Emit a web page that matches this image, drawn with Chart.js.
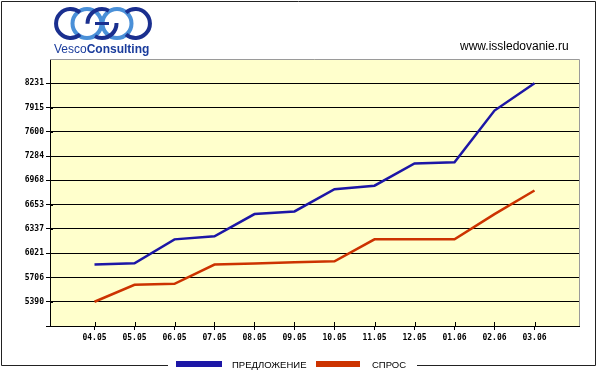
<!DOCTYPE html>
<html><head><meta charset="utf-8">
<script src="https://cdn.jsdelivr.net/npm/chart.js@4.4.0/dist/chart.umd.min.js"></script>
<style>
html,body{margin:0;padding:0;background:#fff;}
#wrap{position:relative;width:600px;height:383px;overflow:hidden;}
canvas{position:absolute;left:0;top:0;}
#logo{position:absolute;left:50px;top:4px;}
#url{position:absolute;left:460px;top:40px;font:12px/12px "Liberation Sans",Arial,sans-serif;color:#000;white-space:nowrap;}
</style></head><body>
<div id="wrap">
<canvas id="c" width="600" height="383"></canvas>
<svg id="logo" width="104" height="54" viewBox="50 4 104 54">
  <g fill="none" stroke-width="4">
    <circle cx="87" cy="23.5" r="14.5" stroke="#4a90d8"/>
    <circle cx="117" cy="23.5" r="14.5" stroke="#4a90d8"/>
    <path d="M80 12.5 A14.5 14.5 0 1 0 80 34.5" stroke="#1a2f8f"/>
    <circle cx="102" cy="23.5" r="14.5" stroke="#1a2f8f" stroke-dasharray="30 15"/>
    <path d="M126 12.5 A14.5 14.5 0 1 1 126 34.5" stroke="#1a2f8f"/>
    <path d="M95 23.5 L109 23.5" stroke="#1a2f8f" stroke-width="3"/>
  </g>
  <text x="54" y="53" font-family="Liberation Sans, Arial, sans-serif" font-size="12" fill="#1a3c9c">Vesco<tspan font-weight="bold">Consulting</tspan></text>
</svg>
<div id="url">www.issledovanie.ru</div>
</div>
<script>
const categories = ['04.05','05.05','06.05','07.05','08.05','09.05','10.05','11.05','12.05','01.06','02.06','03.06'];
const supplyValues = [5873, 5890, 6201, 6241, 6530, 6564, 6854, 6899, 7188, 7205, 7876, 8231];
const demandValues = [5390, 5610, 5623, 5873, 5886, 5903, 5916, 6201, 6201, 6201, 6530, 6837];
const seriesNames = ['ПРЕДЛОЖЕНИЕ', 'СПРОС'];
const seriesColors = ['#1c16a6', '#cc3300'];
const yTickValues = [5074.33, 5390, 5705.67, 6021.33, 6337, 6652.67, 6968.33, 7284, 7599.67, 7915.33, 8231, 8546.67];
const yTickLabels = ['', '5390', '5706', '6021', '6337', '6653', '6968', '7284', '7600', '7915', '8231', ''];

const Y_MIN = yTickValues[0], Y_MAX = yTickValues[yTickValues.length - 1];
const tickFont = {family: '"DejaVu Sans Mono", monospace', size: 8, weight: 'bold'};

const decor = {
  id: 'decor',
  beforeDraw(chart) {
    const {ctx, chartArea: a} = chart;
    ctx.save();
    ctx.fillStyle = '#ffffff';
    ctx.fillRect(0, 0, chart.width, chart.height);
    ctx.fillStyle = '#ffffcc';
    ctx.fillRect(a.left, a.top, a.right - a.left, a.bottom - a.top);
    ctx.restore();
  },
  afterDraw(chart) {
    const {ctx, chartArea: a, scales} = chart;
    ctx.save();
    ctx.strokeStyle = '#9a9a9a';
    ctx.lineWidth = 1;
    ctx.beginPath();
    ctx.moveTo(a.left, a.top + 0.5); ctx.lineTo(a.right + 0.5, a.top + 0.5);
    ctx.lineTo(a.right + 0.5, a.bottom);
    ctx.stroke();
    ctx.strokeStyle = '#000';
    ctx.beginPath();
    scales.y.ticks.forEach(t => {
      if (t.value >= Y_MAX) return;
      const y = Math.round(scales.y.getPixelForValue(t.value)) + 0.5;
      ctx.moveTo(a.left, y); ctx.lineTo(a.left + 3, y);
    });
    scales.x.ticks.forEach(t => {
      const x = Math.round(scales.x.getPixelForValue(t.value)) + 0.5;
      ctx.moveTo(x, a.bottom - 4); ctx.lineTo(x, a.bottom);
    });
    ctx.stroke();
    ctx.strokeStyle = '#222';
    ctx.beginPath();
    ctx.moveTo(168, 365.5); ctx.lineTo(1.5, 365.5); ctx.lineTo(1.5, 1.5);
    ctx.lineTo(595.5, 1.5); ctx.lineTo(595.5, 365.5); ctx.lineTo(417, 365.5);
    ctx.stroke();
    ctx.font = '9.5px "Liberation Sans", Arial, sans-serif';
    ctx.textBaseline = 'middle';
    ctx.textAlign = 'left';
    const items = [
      {box: 176, w: 46, text: 232},
      {box: 316, w: 44, text: 372}
    ];
    chart.data.datasets.forEach((ds, i) => {
      const it = items[i];
      ctx.fillStyle = ds.borderColor;
      ctx.fillRect(it.box, 361, it.w, 6);
      ctx.fillStyle = '#000';
      ctx.fillText(ds.label, it.text, 365);
    });
    ctx.restore();
  }
};

new Chart(document.getElementById('c'), {
  type: 'line',
  data: {
    datasets: [
      {label: seriesNames[0], data: supplyValues.map((v, i) => ({x: i, y: v})), borderColor: seriesColors[0], borderWidth: 2.5, pointRadius: 0, tension: 0, fill: false},
      {label: seriesNames[1], data: demandValues.map((v, i) => ({x: i, y: v})), borderColor: seriesColors[1], borderWidth: 2.5, pointRadius: 0, tension: 0, fill: false}
    ]
  },
  options: {
    responsive: false,
    animation: false,
    devicePixelRatio: 1,
    layout: {padding: {left: 0, right: 21, top: 59, bottom: 0}},
    plugins: {legend: {display: false}, tooltip: {enabled: false}, title: {display: false}},
    scales: {
      x: {
        type: 'linear',
        min: -1.1125,
        max: categories.length - 1 + 1.1125,
        afterBuildTicks(s) { s.ticks = categories.map((c, i) => ({value: i})); },
        afterFit(s) { s.height = 57; },
        ticks: {
          autoSkip: false, maxRotation: 0, padding: 3, color: '#000', font: tickFont,
          callback: (v) => categories[v]
        },
        grid: {drawOnChartArea: false, drawTicks: true, tickLength: 4, color: '#000'},
        border: {display: true, color: '#000', width: 1}
      },
      y: {
        type: 'linear',
        min: Y_MIN,
        max: Y_MAX,
        afterBuildTicks(s) { s.ticks = yTickValues.map(v => ({value: v})); },
        afterFit(s) { s.width = 50; },
        ticks: {
          autoSkip: false, padding: 2, color: '#000', font: tickFont,
          callback: (v) => { const k = yTickValues.indexOf(v); return k >= 0 ? yTickLabels[k] : ''; }
        },
        grid: {
          drawTicks: true, tickLength: 4,
          color: (c) => (c.tick && c.tick.value >= Y_MAX) ? 'rgba(0,0,0,0)' : '#000',
          tickColor: (c) => (c.tick && c.tick.value >= Y_MAX) ? 'rgba(0,0,0,0)' : '#000'
        },
        border: {display: true, color: '#000', width: 1}
      }
    }
  },
  plugins: [decor]
});
</script>
</body></html>
